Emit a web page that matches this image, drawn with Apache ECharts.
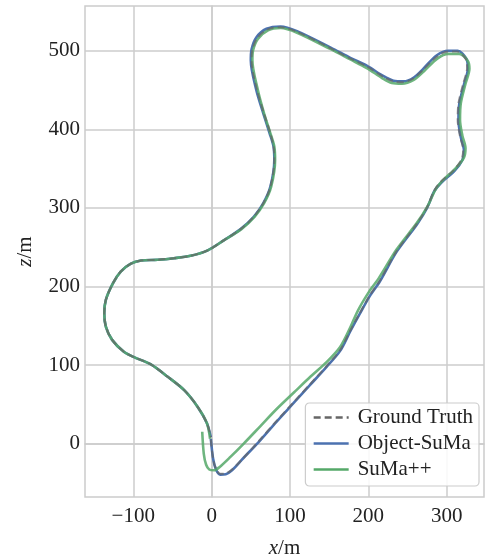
<!DOCTYPE html>
<html><head><meta charset="utf-8">
<script src="https://cdn.jsdelivr.net/npm/echarts@6/dist/echarts.min.js"></script>
<style>html,body{margin:0;padding:0;background:#fff}#c{width:486px;height:560px}</style>
</head><body><div id="c"></div>
<script>
const xTicks = [-100, 0, 100, 200, 300];
const zTicks = [0, 100, 200, 300, 400, 500];
const seriesNames = ['Ground Truth', 'Object-SuMa', 'SuMa++'];

const groundTruth = [[-1,5],[2,-20],[6,-33],[11,-38.5],[18,-38],[26,-33],[40,-19],[60,3],[83,29],[105,53],[126,76],[147,99],[164,119],[177,144],[189,166],[202,189],[215,208],[236,245],[262,280],[275,301],[284,322],[292,333],[309,348],[319,362],[321,374],[317,391],[314,412],[315,433],[321,458],[326,478],[324,490],[313,499],[302,499],[288,493],[270,476],[258,465],[245,460],[232,461],[219,467],[198,480],[177,490],[152,503],[109,524],[88,530],[71,527],[58,516],[52,501],[51,488],[58,450],[67,420],[75,395],[79,378],[80,361],[75,327],[66,306],[54,289],[37,273],[16,259],[-5,246],[-27,239],[-48,236],[-69,234],[-90,233],[-103,229],[-116,219],[-126,204],[-135,183],[-137,166],[-135,149],[-127,132],[-112,117],[-99,110],[-78,101],[-56,85],[-35,68],[-18,47],[-6,26],[-1,8]];

const objectSuMa = [[-1,6],[2,-20],[6,-34],[11,-39.5],[18,-39],[26,-34],[40,-19],[60,2],[83,28],[105,52],[126,75],[147,98],[164,118],[177,143],[189,165],[202,188],[215,207],[236,244],[262,279],[275,300],[284,321],[293,332],[310,347],[320,361],[322,373],[318,390],[315,411],[316,432],[322,457],[327,477],[325,490],[314,500],[302,500],[287,494],[270,477],[258,466],[245,461],[232,462],[219,468],[198,481],[177,491],[152,504],[109,525],[88,531],[70,528],[57,517],[51,502],[50,488],[57,450],[66,420],[74,395],[79,378],[80,361],[75,327],[66,306],[54,289],[37,273],[16,259],[-5,246],[-27,239],[-48,236],[-69,234],[-90,233],[-103,229],[-116,219],[-126,204],[-135,183],[-137,166],[-135,149],[-127,132],[-112,117],[-99,110],[-78,101],[-56,85],[-35,68],[-18,47],[-6,26],[-1,8]];

const sumaPP = [[-12,15],[-10,-13],[-7,-27],[-3,-33],[3,-34],[10,-30],[24,-17],[41,0],[62,22],[83,44],[105,65],[126,85],[147,104],[164,123],[177,148],[187,170],[202,195],[213,210],[236,247],[262,281],[276,303],[286,324],[295,335],[311,350],[322,364],[324,376],[320,392],[317,412],[318,433],[324,458],[329,477],[327,487],[316,496],[302,496],[288,490],[271,474],[258,463],[243,458],[230,459],[218,465],[198,478],[177,489],[152,502],[109,523],[88,529],[72,526],[59,515],[53,501],[52,488],[59,450],[67,420],[75,395],[80,378],[81,361],[76,327],[67,306],[55,289],[38,273],[16,259],[-5,246],[-27,239],[-48,236],[-69,234],[-90,233],[-103,229],[-116,219],[-126,204],[-135,183],[-137,166],[-135,149],[-127,132],[-112,117],[-99,110],[-78,101],[-56,85],[-35,68],[-18,47],[-6,26],[-2,6]];

const FONT = '"Liberation Serif", "DejaVu Serif", serif';
const fmt = v => (v < 0 ? '\u2212' + Math.abs(v) : String(v));
const chart = echarts.init(document.getElementById('c'), null, {renderer: 'canvas'});
const gridColor = '#cccccc';
chart.setOption({
  animation: false,
  backgroundColor: '#ffffff',
  grid: {left: 85, top: 6, width: 399, height: 491, show: true, borderColor: gridColor, borderWidth: 1.5, outerBoundsMode: 'none', containLabel: false},
  xAxis: {
    type: 'value', min: -161.6, max: 347.6,
    axisLine: {show: true, lineStyle: {color: gridColor, width: 1.5}},
    axisTick: {show: false, customValues: xTicks},
    splitLine: {show: true, lineStyle: {color: gridColor, width: 1.5}},
    axisLabel: {customValues: xTicks, formatter: fmt, color: '#222', fontFamily: FONT, fontSize: 21, margin: 9},
    name: '{i|x}/m', nameLocation: 'middle', nameGap: 41,
    nameTextStyle: {color: '#222', fontFamily: FONT, fontSize: 21, rich: {i: {fontStyle: 'italic', fontFamily: FONT, fontSize: 21, color: '#222'}}}
  },
  yAxis: {
    type: 'value', min: -68, max: 557,
    axisLine: {show: true, lineStyle: {color: gridColor, width: 1.5}},
    axisTick: {show: false, customValues: zTicks},
    splitLine: {show: true, lineStyle: {color: gridColor, width: 1.5}},
    axisLabel: {customValues: zTicks, formatter: fmt, color: '#222', fontFamily: FONT, fontSize: 21, margin: 5},
    name: '{i|z}/m', nameLocation: 'middle', nameGap: 49, nameRotate: 90,
    nameTextStyle: {color: '#222', fontFamily: FONT, fontSize: 21, rich: {i: {fontStyle: 'italic', fontFamily: FONT, fontSize: 21, color: '#222'}}}
  },
  legend: {
    data: seriesNames, orient: 'vertical', right: 7, top: 403,
    itemWidth: 35, itemHeight: 14, itemGap: 5,
    padding: [4, 6, 6, 7],
    itemStyle: {opacity: 0},
    lineStyle: {width: 2.6, opacity: 1},
    borderColor: gridColor, borderWidth: 1.2, borderRadius: 4, backgroundColor: 'rgba(255,255,255,0.85)',
    textStyle: {fontFamily: FONT, fontSize: 21, color: '#222', lineHeight: 21, padding: [0, 0, 0, 4]}
  },
  series: [
    {name: seriesNames[1], type: 'line', data: objectSuMa, symbol: 'none', smooth: 0.3, z: 2,
     lineStyle: {color: '#4c72b0', width: 2.6}, itemStyle: {color: '#4c72b0'}},
    {name: seriesNames[2], type: 'line', data: sumaPP, symbol: 'none', smooth: 0.3, z: 3,
     lineStyle: {color: '#55a868', width: 2.6, opacity: 0.85}, itemStyle: {color: '#55a868'}},
    {name: seriesNames[0], type: 'line', data: groundTruth, symbol: 'none', smooth: 0.3, z: 4,
     lineStyle: {color: '#666666', width: 2, type: [7, 4], opacity: 0.7}, itemStyle: {color: '#666666'}}
  ]
});
</script></body></html>
